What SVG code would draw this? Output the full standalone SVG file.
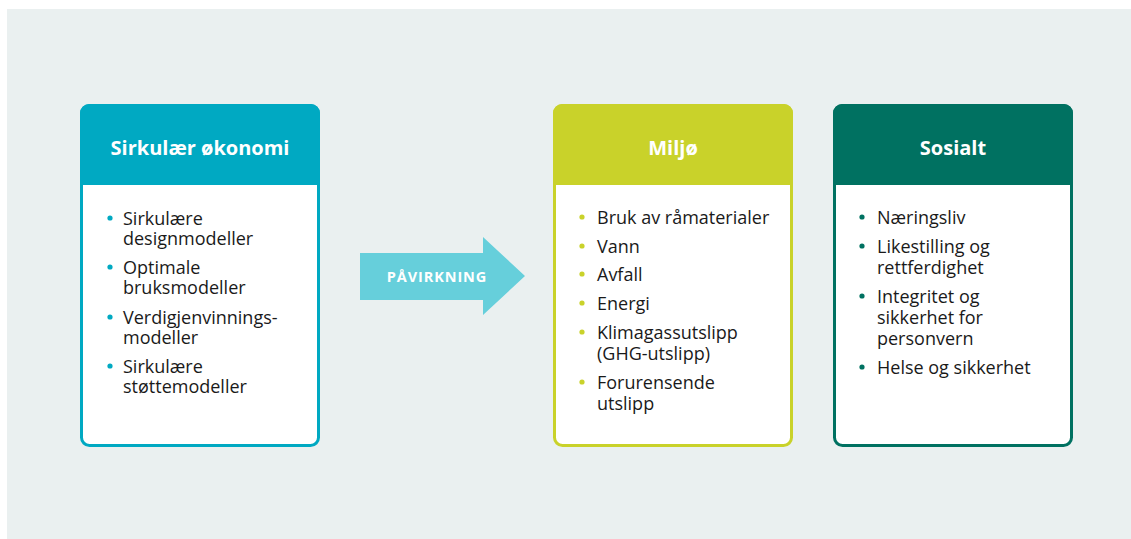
<svg xmlns="http://www.w3.org/2000/svg" width="1131" height="539" viewBox="0 0 1131 539">
  <defs>
    <style>
      .title { font-family: "Open Sans", "Liberation Sans", sans-serif; font-weight: bold; font-size: 20px; fill: #ffffff; text-anchor: middle; }
      .item { font-family: "Open Sans", "Liberation Sans", sans-serif; font-size: 18px; fill: #1a1a1a; }
      .arrowtxt { font-family: "Open Sans", "Liberation Sans", sans-serif; font-weight: bold; font-size: 14.5px; fill: #ffffff; text-anchor: middle; letter-spacing: 0.9px; }
      .card { fill: #ffffff; stroke-width: 3; }
    </style>
    <clipPath id="clipA"><rect x="80" y="104" width="240" height="343" rx="9"/></clipPath>
    <clipPath id="clipB"><rect x="553" y="104" width="240" height="343" rx="9"/></clipPath>
    <clipPath id="clipC"><rect x="833" y="104" width="240" height="343" rx="9"/></clipPath>
  </defs>

  <rect x="7" y="9" width="1124" height="530" fill="#eaf0f0"/>

  <g id="connectors">
    <polygon points="360,253 483,253 483,237 525,276 483,315 483,300 360,300" fill="#66cfdb"/>
    <text class="arrowtxt" x="437" y="282">PÅVIRKNING</text>
  </g>

  <g id="sirkulaer">
    <rect x="81.5" y="105.5" width="237" height="340" rx="8" class="card" stroke="#00a9c2"/>
    <rect x="80" y="104" width="240" height="81" fill="#00a9c2" clip-path="url(#clipA)"/>
    <text class="title" x="200" y="155">Sirkulær økonomi</text>
    <g fill="#00a9c2">
      <circle cx="110" cy="218" r="2.6"/>
      <circle cx="110" cy="267" r="2.6"/>
      <circle cx="110" cy="317" r="2.6"/>
      <circle cx="110" cy="366" r="2.6"/>
    </g>
    <text class="item" x="123" y="225">Sirkulære<tspan x="123" dy="20">designmodeller</tspan></text>
    <text class="item" x="123" y="274">Optimale<tspan x="123" dy="20">bruksmodeller</tspan></text>
    <text class="item" x="123" y="324">Verdigjenvinnings-<tspan x="123" dy="20">modeller</tspan></text>
    <text class="item" x="123" y="373">Sirkulære<tspan x="123" dy="20">støttemodeller</tspan></text>
  </g>

  <g id="miljo">
    <rect x="554.5" y="105.5" width="237" height="340" rx="8" class="card" stroke="#c9d22a"/>
    <rect x="553" y="104" width="240" height="81" fill="#c9d22a" clip-path="url(#clipB)"/>
    <text class="title" x="673" y="155">Miljø</text>
    <g fill="#c9d22a">
      <circle cx="582" cy="217" r="2.6"/>
      <circle cx="582" cy="246" r="2.6"/>
      <circle cx="582" cy="274" r="2.6"/>
      <circle cx="582" cy="303" r="2.6"/>
      <circle cx="582" cy="332" r="2.6"/>
      <circle cx="582" cy="382" r="2.6"/>
    </g>
    <text class="item" x="597" y="224">Bruk av råmaterialer</text>
    <text class="item" x="597" y="253">Vann</text>
    <text class="item" x="597" y="281">Avfall</text>
    <text class="item" x="597" y="310">Energi</text>
    <text class="item" x="597" y="339">Klimagassutslipp<tspan x="597" dy="21">(GHG-utslipp)</tspan></text>
    <text class="item" x="597" y="389">Forurensende<tspan x="597" dy="21">utslipp</tspan></text>
  </g>

  <g id="sosialt">
    <rect x="834.5" y="105.5" width="237" height="340" rx="8" class="card" stroke="#007161"/>
    <rect x="833" y="104" width="240" height="81" fill="#007161" clip-path="url(#clipC)"/>
    <text class="title" x="953" y="155">Sosialt</text>
    <g fill="#007161">
      <circle cx="862" cy="217" r="2.6"/>
      <circle cx="862" cy="246" r="2.6"/>
      <circle cx="862" cy="296" r="2.6"/>
      <circle cx="862" cy="367" r="2.6"/>
    </g>
    <text class="item" x="877" y="224">Næringsliv</text>
    <text class="item" x="877" y="253">Likestilling og<tspan x="877" dy="21">rettferdighet</tspan></text>
    <text class="item" x="877" y="303">Integritet og<tspan x="877" dy="21">sikkerhet for</tspan><tspan x="877" dy="21">personvern</tspan></text>
    <text class="item" x="877" y="374">Helse og sikkerhet</text>
  </g>
</svg>
